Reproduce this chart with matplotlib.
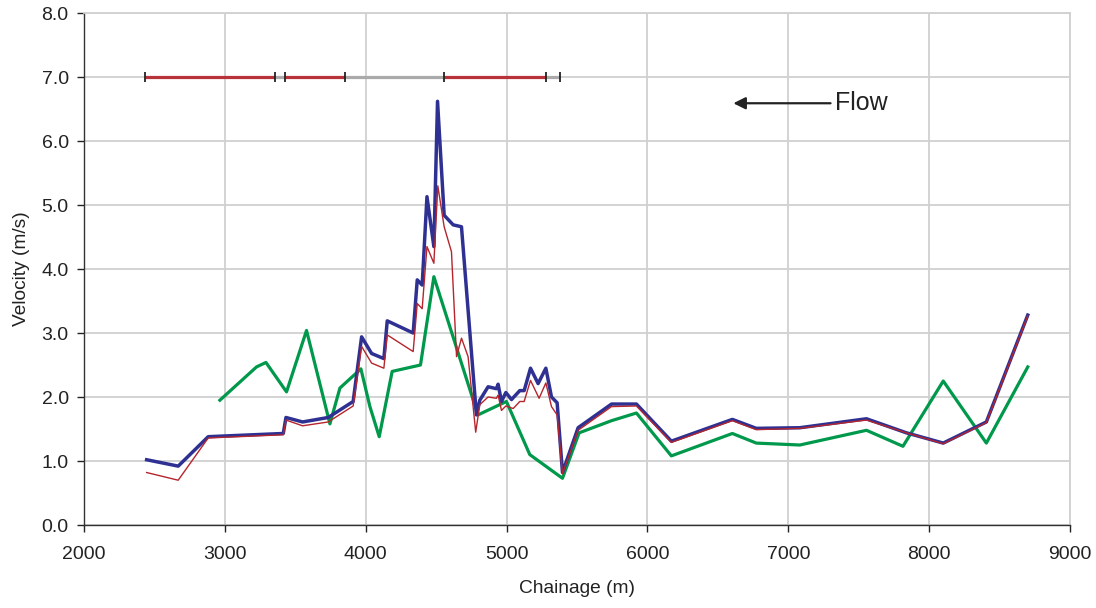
import matplotlib
matplotlib.use("Agg")
import matplotlib.pyplot as plt

plt.rcParams["font.family"] = ["Liberation Sans", "DejaVu Sans"]

# Blue series (thick)
blue_x = [2445, 2669, 2882, 3415, 3434, 3552, 3734, 3911, 3971, 4042, 4129, 4153,
          4337, 4366, 4401, 4435, 4484, 4510, 4557, 4621, 4680, 4786, 4810, 4869,
          4928, 4940, 4964, 4995, 5035, 5094, 5125, 5170, 5224, 5279, 5319, 5359,
          5397, 5508, 5745, 5922, 6170, 6603, 6773, 7082, 7555, 7839, 8100, 8406, 8700]
blue_y = [1.02, 0.92, 1.38, 1.43, 1.68, 1.61, 1.68, 1.93, 2.94, 2.68, 2.60, 3.19,
          3.00, 3.83, 3.75, 5.13, 4.35, 6.62, 4.84, 4.69, 4.66, 1.72, 1.95, 2.16,
          2.13, 2.20, 1.93, 2.07, 1.96, 2.10, 2.10, 2.45, 2.21, 2.45, 2.00, 1.91,
          0.82, 1.52, 1.89, 1.89, 1.31, 1.65, 1.51, 1.52, 1.66, 1.44, 1.28, 1.61, 3.28]

# Red series (thin)
red_x = [2445, 2669, 2882, 3415, 3434, 3552, 3734, 3911, 3971, 4042, 4129, 4153,
         4337, 4366, 4401, 4435, 4484, 4512, 4557, 4609, 4645, 4680, 4727, 4781,
         4810, 4869, 4928, 4940, 4964, 4995, 5047, 5094, 5125, 5170, 5231, 5279,
         5319, 5359, 5397, 5508, 5745, 5922, 6170, 6603, 6773, 7082, 7555, 7839,
         8100, 8406, 8700]
red_y = [0.82, 0.70, 1.36, 1.41, 1.64, 1.55, 1.61, 1.86, 2.79, 2.53, 2.45, 2.97,
         2.71, 3.46, 3.38, 4.35, 4.09, 5.30, 4.66, 4.27, 2.63, 2.92, 2.63, 1.45,
         1.88, 2.00, 1.98, 2.03, 1.79, 1.86, 1.82, 1.93, 1.93, 2.26, 1.98, 2.22,
         1.85, 1.72, 0.80, 1.48, 1.85, 1.86, 1.29, 1.63, 1.49, 1.51, 1.64, 1.44,
         1.27, 1.60, 3.27]

# Green series
green_x = [2965, 3225, 3292, 3438, 3580, 3746, 3817, 3966, 4030, 4096, 4188, 4389,
           4484, 4797, 4999, 5165, 5397, 5515, 5745, 5922, 6170, 6603, 6773, 7082,
           7555, 7814, 8100, 8406, 8700]
green_y = [1.95, 2.47, 2.54, 2.08, 3.04, 1.58, 2.14, 2.44, 1.85, 1.38, 2.40, 2.50,
           3.88, 1.72, 1.93, 1.10, 0.73, 1.44, 1.63, 1.75, 1.08, 1.43, 1.28, 1.25,
           1.48, 1.23, 2.25, 1.28, 2.47]

# Reach bars at v = 7.0 (start, end, kind)
bar_start = [2433, 3356, 3427, 3855, 4555, 5279]
bar_end = [3356, 3427, 3855, 4555, 5279, 5378]
bar_kind = ["red", "gray", "red", "gray", "red", "gray"]
bar_level = 7.0

BLUE = "#2e3192"
RED = "#b5252d"
GREEN = "#00994c"
GRID = "#d0d0d0"

fig = plt.figure(figsize=(10.96, 6.08), dpi=100)
ax = fig.add_axes([0.0766, 0.1365, 0.8997, 0.8421])

ax.plot(green_x, green_y, color=GREEN, lw=2.3, zorder=3)
ax.plot(blue_x, blue_y, color=BLUE, lw=2.5, zorder=4)
ax.plot(red_x, red_y, color=RED, lw=1.0, zorder=5)

bar_colors = {"red": "#b8323a", "gray": "#aaaaaa"}
for s, e, k in zip(bar_start, bar_end, bar_kind):
    ax.plot([s, e], [bar_level, bar_level], color=bar_colors[k], lw=2.3,
            solid_capstyle="butt", zorder=3)
caps = sorted(set(bar_start + bar_end))
ax.vlines(caps, bar_level - 0.08, bar_level + 0.08, color="#222222", lw=1.3, zorder=4)

ax.annotate("", xy=(6610, 6.59), xytext=(7300, 6.59),
            arrowprops=dict(arrowstyle="-|>", color="#222222", lw=1.6,
                            mutation_scale=18, shrinkA=0, shrinkB=0))
ax.text(7330, 6.59, "Flow", fontsize=18, va="center", ha="left", color="#222222")

ax.set_xlim(2000, 9000)
ax.set_ylim(0, 8)
ax.set_xticks(range(2000, 9001, 1000))
ax.set_yticks([i for i in range(9)])
ax.set_yticklabels([f"{i:.1f}" for i in range(9)])
ax.grid(True, color=GRID, lw=1.3, zorder=0)
ax.set_axisbelow(True)

for side in ["top", "right"]:
    ax.spines[side].set_color(GRID)
    ax.spines[side].set_linewidth(1.3)
for side in ["left", "bottom"]:
    ax.spines[side].set_color("#333333")
    ax.spines[side].set_linewidth(1.0)

ax.tick_params(axis="both", labelsize=14, colors="#222222", length=5, width=1.0)
ax.tick_params(axis="x", pad=10)
ax.tick_params(axis="y", pad=6)
ax.set_xlabel("Chainage (m)", fontsize=13.8, color="#222222", labelpad=12)
ax.set_ylabel("Velocity (m/s)", fontsize=13.8, color="#222222", labelpad=8)

fig.savefig("out.png", dpi=100)
